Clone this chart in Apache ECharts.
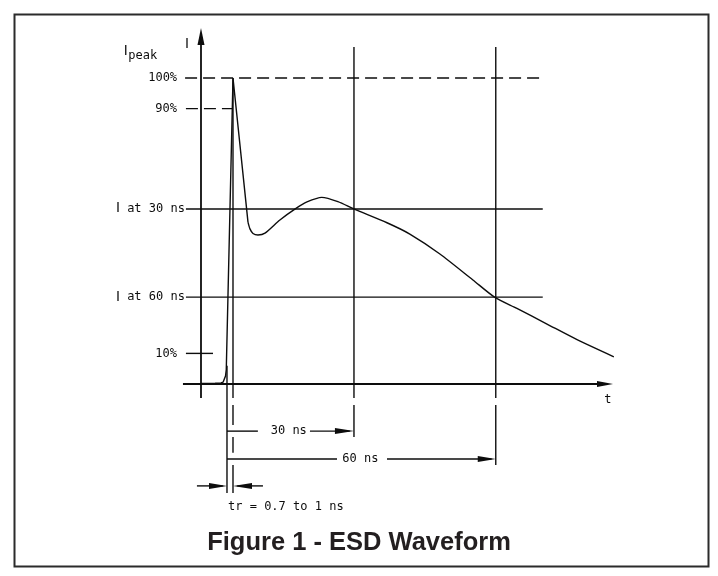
<!DOCTYPE html>
<html><head><meta charset="utf-8">
<script src="https://cdn.jsdelivr.net/npm/echarts@6/dist/echarts.min.js"></script>
<style>html,body{margin:0;padding:0;background:#fff}#c{width:718px;height:576px}</style>
</head><body><div id="c"></div>
<script>
// ---- Waveform: time (ns, from start of rise) and current (% of Ipeak) ----
const waveTime = [-6.1, -2.8, -1.4, -0.9, -0.6, -0.35, -0.17, 1.42, 4.96, 5.43, 6.14, 7.32, 8.98, 12.5, 16.3, 18.9, 22.4, 26.2, 30.0, 37.8, 43.2, 50.3, 58.1, 63.3, 68.5, 75.6, 82.7, 91.4];
const waveCurrent = [0.16, 0.23, 0.33, 0.65, 1.3, 2.6, 4.6, 100, 52.9, 50.7, 49.2, 48.7, 49.3, 53.6, 57.4, 59.5, 61.0, 59.6, 57.2, 52.7, 49.0, 42.5, 34.0, 28.3, 24.7, 19.6, 14.5, 8.9];
const sharpPoints = 9; // rise and fall up to the dip are straight strokes

// ---- Reference levels (current %) ----
const levelLabels = ['100%', '90%', 'I at 30 ns', 'I at 60 ns', '10%'];
const levelValues = [100, 90, 57.2, 28.4, 10];
const levelFrom = [-9.9, -9.7, -9.7, -9.7, -9.7];
const levelTo = [74.6, 1.42, 74.6, 74.6, -3.3];

// ---- Axes extents (data units) ----
const tAxisRange = [-10.4, 91.2];
const iAxisRange = [-4.6, 116.3];
const iAxisTime = -6.14;

// ---- Time markers ----
const peakTime = 1.42;
const riseStart = 0;
const guideTop = 110.1;
const markTimes = [30, 63.5];
const markLabels = ['30 ns', '60 ns'];
const markArrowLevel = [-15.4, -24.5];
const markLabelTime = [14.6, 31.5];
const markGapFrom = [7.3, 26.0];
const markGapTo = [19.6, 37.8];
const markGuideBottom = [-17.3, -26.5];
const peakGuideSegments = [[100, -4.6], [-6.9, -13.4], [-17.3, -22.5], [-26.5, -35.6]];
const riseGuide = [6, -35.6];
const riseArrowLevel = -33.3;
const riseArrowTails = [-7.1, 8.5];
const riseLabel = 'tr = 0.7 to 1 ns';
const riseLabelPos = [13.9, -40.2];

const INK = '#0d0d0d';
const MONO = '"DejaVu Sans Mono", monospace';
const SANS = '"DejaVu Sans", sans-serif';

const series = [];
function addLine(points, width, dashed) {
  series.push({
    type: 'line', data: points, symbol: 'none', silent: true, animation: false, clip: false,
    lineStyle: { color: INK, width: width, type: dashed ? [12, 6] : 'solid', cap: 'butt' }
  });
}

// axes
addLine([[tAxisRange[0], 0], [tAxisRange[1] - 2, 0]], 1.8);
addLine([[iAxisTime, iAxisRange[0]], [iAxisTime, iAxisRange[1] - 3]], 1.8);

// levels
for (let k = 0; k < levelValues.length; k++) {
  addLine([[levelFrom[k], levelValues[k]], [levelTo[k], levelValues[k]]], 1.4, k < 2);
}

// vertical guides for 30/60 ns
for (let k = 0; k < markTimes.length; k++) {
  addLine([[markTimes[k], guideTop], [markTimes[k], -4.6]], 1.4);
  addLine([[markTimes[k], -6.9], [markTimes[k], markGuideBottom[k]]], 1.4);
  addLine([[riseStart, markArrowLevel[k]], [markGapFrom[k], markArrowLevel[k]]], 1.4);
  addLine([[markGapTo[k], markArrowLevel[k]], [markTimes[k] - 1, markArrowLevel[k]]], 1.4);
}
// peak guide (broken)
peakGuideSegments.forEach(s => addLine([[peakTime, s[0]], [peakTime, s[1]]], 1.4));
// rise start guide
addLine([[riseStart, riseGuide[0]], [riseStart, riseGuide[1]]], 1.4);
// rise-time arrows
addLine([[riseArrowTails[0], riseArrowLevel], [riseStart - 1, riseArrowLevel]], 1.4);
addLine([[riseArrowTails[1], riseArrowLevel], [peakTime + 1, riseArrowLevel]], 1.4);

// waveform
const wave = waveTime.map((t, i) => [t, waveCurrent[i]]);
series.push({
  type: 'line', data: wave.slice(0, sharpPoints), symbol: 'none',
  silent: true, animation: false, clip: false,
  lineStyle: { color: INK, width: 1.4, join: 'miter' }
});
series.push({
  type: 'line', data: wave.slice(sharpPoints - 1), symbol: 'none', smooth: 0.25,
  silent: true, animation: false, clip: false,
  lineStyle: { color: INK, width: 1.4 }
});

// arrowheads: [tipT, tipI, dirX, dirY, length(px), width(px)]
const arrowData = [
  [tAxisRange[1], 0, 1, 0, 16, 6],
  [iAxisTime, iAxisRange[1], 0, 1, 17, 7],
  [markTimes[0], markArrowLevel[0], 1, 0, 19, 6],
  [markTimes[1], markArrowLevel[1], 1, 0, 18, 6],
  [riseStart, riseArrowLevel, 1, 0, 18, 6],
  [peakTime, riseArrowLevel, -1, 0, 19, 6]
];
series.push({
  type: 'custom', silent: true, animation: false, clip: false,
  data: arrowData,
  renderItem: function (params, api) {
    const p = api.coord([api.value(0), api.value(1)]);
    const ux = api.value(2), uy = -api.value(3);
    const len = api.value(4), w = api.value(5) / 2;
    const bx = p[0] - ux * len, by = p[1] - uy * len;
    const nx = -uy, ny = ux;
    return {
      type: 'polygon',
      shape: { points: [[p[0], p[1]], [bx + nx * w, by + ny * w], [bx - nx * w, by - ny * w]] },
      style: { fill: INK }
    };
  }
});

// texts
const texts = [];
levelLabels.forEach((s, k) => {
  const isI = s.charAt(0) === 'I';
  texts.push({ value: [levelFrom[k], levelValues[k]], text: isI ? '{i|I}{m|' + s.slice(1) + '}' : s, align: 'right', dx: isI ? -1 : (k === 0 ? -8 : -9) });
});
markLabels.forEach((s, k) => texts.push({ value: [markLabelTime[k], markArrowLevel[k]], text: s, align: 'center', dx: 0 }));
texts.push({ value: riseLabelPos, text: riseLabel, align: 'center', dx: 0 });
texts.push({ value: [-23.9, 108.6], text: '{i|I}', align: 'center', dx: 0 });
texts.push({ value: [-23.3, 107.1], text: 'peak', align: 'left', dx: 0 });
texts.push({ value: [-9.45, 111.1], text: '{i|I}', align: 'center', dx: 0 });
texts.push({ value: [90.0, -5.2], text: 't', align: 'center', dx: 0 });

series.push({
  type: 'custom', silent: true, animation: false, clip: false,
  data: texts.map(d => d.value),
  renderItem: function (params, api) {
    const d = texts[params.dataIndex];
    const p = api.coord([api.value(0), api.value(1)]);
    return {
      type: 'text', x: p[0] + d.dx, y: p[1],
      style: {
        text: d.text, fill: INK, align: d.align, verticalAlign: 'middle',
        font: '12px ' + MONO,
        rich: {
          i: { fontFamily: SANS, fontSize: 13.5, fill: INK },
          m: { fontFamily: MONO, fontSize: 12, fill: INK }
        }
      }
    };
  }
});

const chart = echarts.init(document.getElementById('c'), null, { renderer: 'canvas' });
chart.setOption({
  backgroundColor: '#ffffff',
  animation: false,
  title: {
    text: 'Figure 1 - ESD Waveform', left: 'center', top: 525,
    textStyle: { fontFamily: '"Liberation Sans", Arial, sans-serif', fontWeight: 'bold', fontSize: 25.5, color: '#231f20' }
  },
  graphic: [{
    type: 'rect', left: 12, top: 12, silent: true,
    shape: { width: 694, height: 552 },
    style: { fill: 'none', stroke: '#2b2b2b', lineWidth: 2 }
  }],
  grid: { left: 100, right: 88.9, top: 16.8, bottom: 54.3 },
  xAxis: { type: 'value', min: -30, max: 95, show: false, splitLine: { show: false } },
  yAxis: { type: 'value', min: -45, max: 120, show: false, splitLine: { show: false } },
  series: series
});
</script></body></html>
